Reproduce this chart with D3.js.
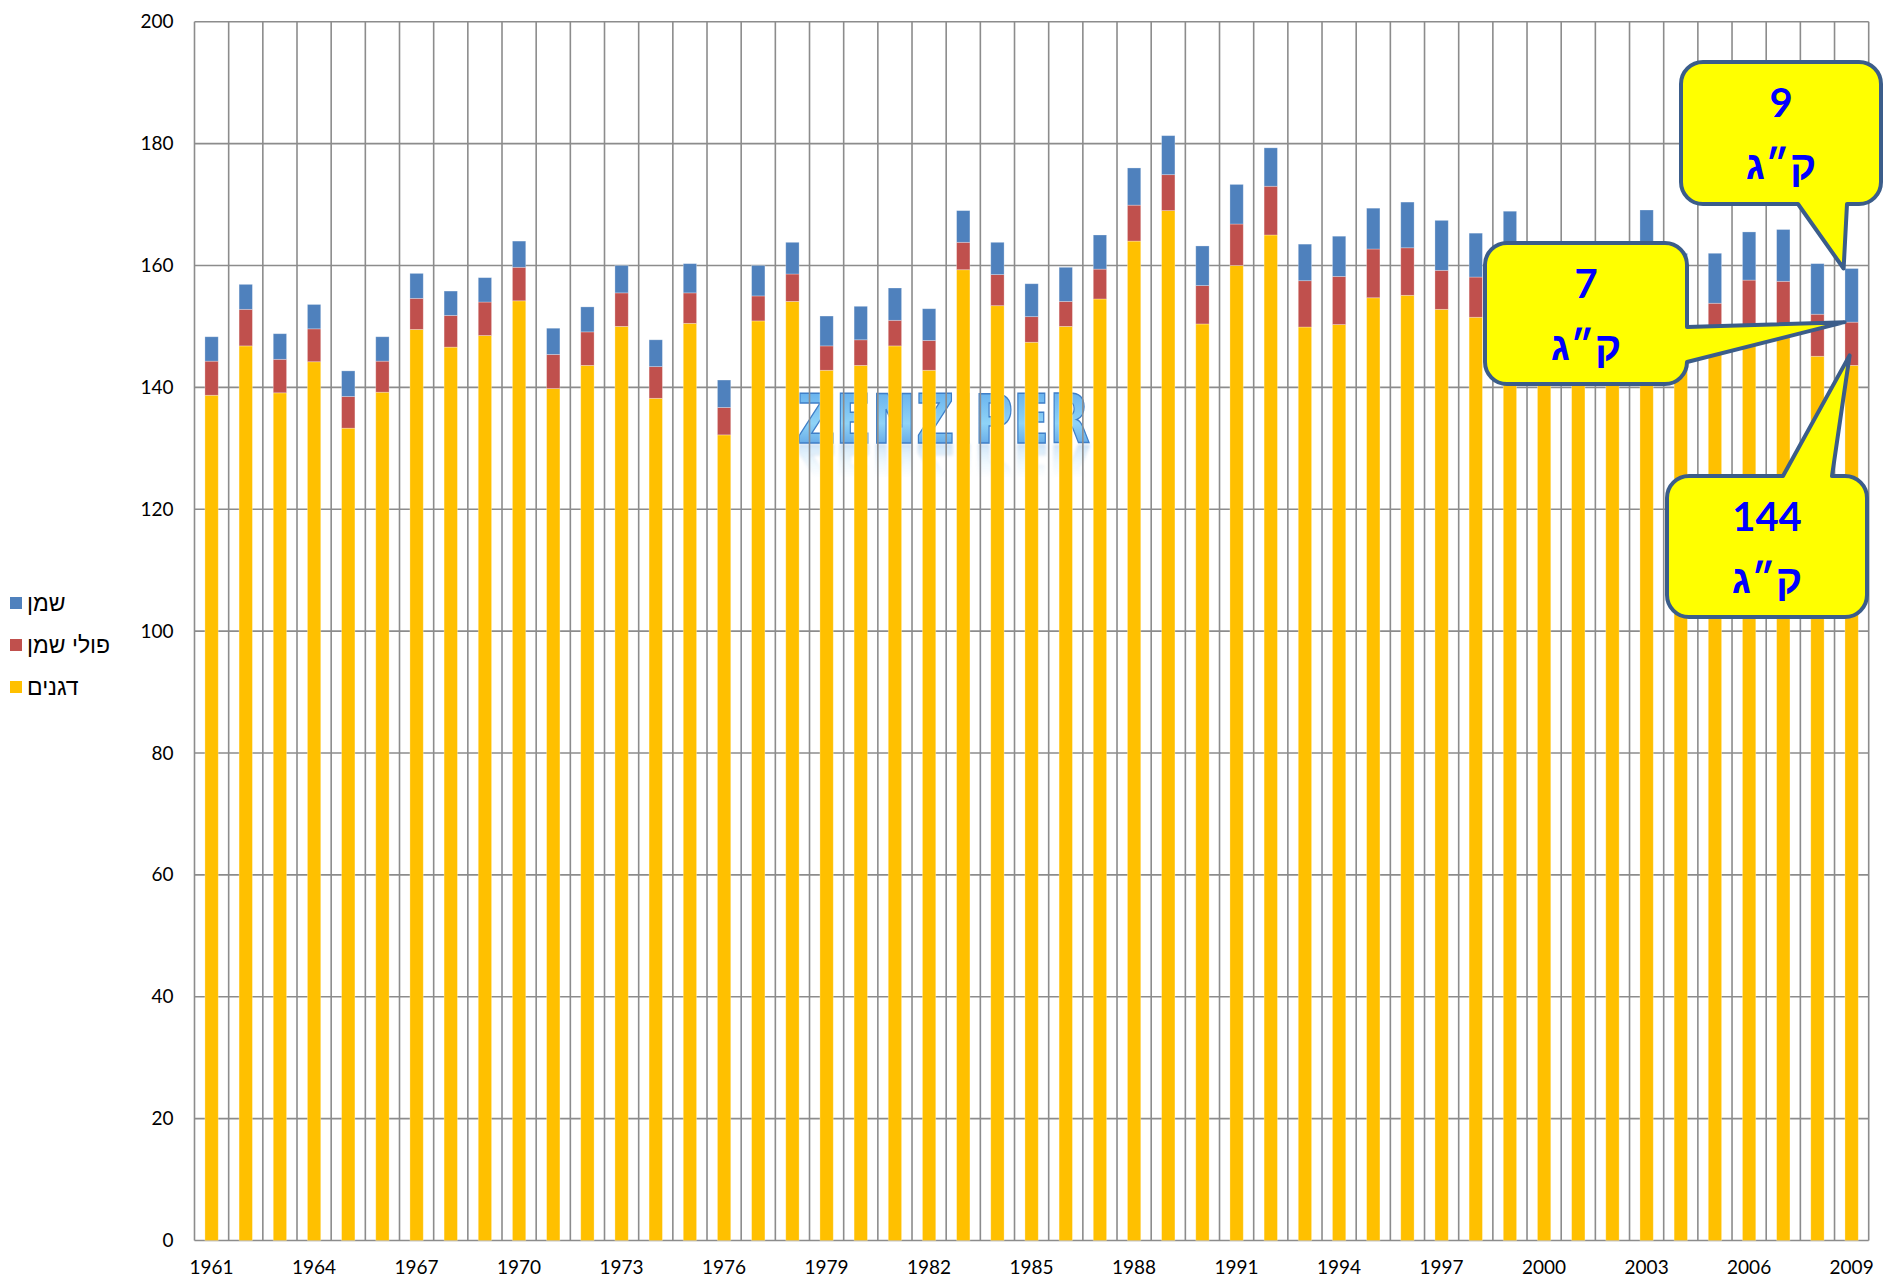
<!DOCTYPE html>
<html>
<head>
<meta charset="utf-8">
<script src="https://cdnjs.cloudflare.com/ajax/libs/d3/7.8.5/d3.min.js"></script>
<style>
  body { margin: 0; background: #fff; }
  svg { display: block; }
</style>
</head>
<body>
<svg id="chart" width="1883" height="1282"></svg>
<script>
// data (kg per person per year)
const years = d3.range(1961, 2010);
const cereals = [138.7, 146.8, 139.1, 144.2, 133.3, 139.2, 149.5, 146.6, 148.5, 154.2,
    139.8, 143.6, 150.0, 138.2, 150.5, 132.2, 150.9, 154.1, 142.8, 143.6,
    146.8, 142.8, 159.3, 153.4, 147.4, 150.0, 154.5, 164.0, 169.0, 150.4,
    160.0, 165.0, 149.9, 150.3, 154.7, 155.1, 152.8, 151.5, 155.0, 147.5,
    147.0, 146.0, 154.5, 147.8, 147.2, 150.0, 149.8, 145.1, 143.6];
const oilcrops = [5.6, 6.0, 5.5, 5.4, 5.2, 5.1, 5.1, 5.2, 5.5, 5.5,
    5.6, 5.5, 5.5, 5.2, 5.0, 4.5, 4.1, 4.5, 4.0, 4.2,
    4.2, 4.9, 4.5, 5.1, 4.2, 4.1, 4.9, 5.9, 5.9, 6.3,
    6.8, 8.0, 7.6, 7.9, 8.0, 7.8, 6.4, 6.6, 6.5, 6.3,
    6.4, 6.5, 6.8, 6.7, 6.6, 7.6, 7.6, 6.9, 7.1];
const oils = [4.0, 4.1, 4.2, 4.0, 4.2, 4.0, 4.1, 4.0, 4.0, 4.3,
    4.3, 4.1, 4.5, 4.4, 4.8, 4.5, 5.0, 5.2, 4.9, 5.5,
    5.3, 5.2, 5.2, 5.3, 5.4, 5.6, 5.6, 6.1, 6.4, 6.5,
    6.5, 6.3, 6.0, 6.6, 6.7, 7.5, 8.2, 7.2, 7.4, 7.6,
    7.7, 7.8, 7.8, 7.5, 8.2, 7.9, 8.5, 8.3, 8.8];

const seriesKeys = ["cereals", "oilcrops", "oils"];
const seriesNames = ["דגנים", "פולי שמן", "שמן"];
const seriesColors = ["#FFC000", "#C0504D", "#4F81BD"];
const yTicks = d3.range(0, 201, 20);
const labelYears = d3.range(1961, 2010, 3);

// callout texts for the last year
const calloutValues = ["9", "7", "144"];
const calloutUnit = "ק״ג";

const rows = years.map((yr, i) => ({ year: yr, cereals: cereals[i], oilcrops: oilcrops[i], oils: oils[i] }));

const svg = d3.select("#chart");
const plot = { left: 194.5, right: 1868.7, top: 21.7, bottom: 1240.5 };
const gridColor = "#8c8c8c";

const x = d3.scaleBand()
    .domain(years)
    .range([plot.left, plot.right])
    .paddingInner(0.61)
    .paddingOuter(0.305);

const y = d3.scaleLinear()
    .domain([0, 200])
    .range([plot.bottom, plot.top]);

const color = d3.scaleOrdinal().domain(seriesKeys).range(seriesColors);

// watermark sits behind the bars
const defs = svg.append("defs");
const wmGrad = defs.append("linearGradient")
    .attr("id", "wm").attr("x1", 0).attr("y1", 0).attr("x2", 0).attr("y2", 1);
wmGrad.append("stop").attr("offset", "0%").attr("stop-color", "#5aa6ea");
wmGrad.append("stop").attr("offset", "55%").attr("stop-color", "#8fd3f7");
wmGrad.append("stop").attr("offset", "100%").attr("stop-color", "#4b8fdc");

// fade for the mirror image
const fadeGrad = defs.append("linearGradient")
    .attr("id", "fade").attr("gradientUnits", "userSpaceOnUse")
    .attr("x1", 0).attr("y1", 443).attr("x2", 0).attr("y2", 478);
fadeGrad.append("stop").attr("offset", "0%").attr("stop-color", "#fff").attr("stop-opacity", 0.55);
fadeGrad.append("stop").attr("offset", "100%").attr("stop-color", "#fff").attr("stop-opacity", 0);
defs.append("mask").attr("id", "fadeMask")
    .attr("maskUnits", "userSpaceOnUse")
    .attr("x", 780).attr("y", 440).attr("width", 330).attr("height", 60)
    .append("rect")
    .attr("x", 780).attr("y", 440).attr("width", 330).attr("height", 60)
    .style("fill", "url(#fade)");
defs.append("filter").attr("id", "soft")
    .append("feGaussianBlur").attr("stdDeviation", 1.5);

const wm = svg.append("g").attr("class", "watermark");
wm.append("text")
    .attr("id", "wmtext")
    .attr("x", 797).attr("y", 443)
    .attr("textLength", 293).attr("lengthAdjust", "spacingAndGlyphs")
    .style("font-family", "'DejaVu Sans', sans-serif")
    .style("font-weight", "bold")
    .style("font-size", "68px")
    .style("fill", "url(#wm)")
    .style("stroke", "#3f7fc8")
    .style("stroke-width", 1.5)
    .text("ZENZIPER");
// faded mirror image below the word
wm.append("g")
    .attr("mask", "url(#fadeMask)")
    .append("use")
    .attr("href", "#wmtext")
    .attr("transform", "translate(0, 888) scale(1,-1)")
    .attr("filter", "url(#soft)")
    .style("opacity", 0.6);

// horizontal gridlines
svg.append("g")
    .selectAll("line")
    .data(yTicks)
    .join("line")
    .attr("x1", plot.left).attr("x2", plot.right)
    .attr("y1", d => y(d)).attr("y2", d => y(d))
    .style("stroke", gridColor)
    .style("stroke-width", 1.6);

// vertical gridlines at category boundaries
const step = x.step();
svg.append("g")
    .selectAll("line")
    .data(years.concat([null]))
    .join("line")
    .attr("x1", (d, i) => plot.left + i * step)
    .attr("x2", (d, i) => plot.left + i * step)
    .attr("y1", plot.top).attr("y2", plot.bottom)
    .style("stroke", gridColor)
    .style("stroke-width", 1.6);

// stacked bars
const stacked = d3.stack().keys(seriesKeys)(rows);
svg.append("g")
    .selectAll("g")
    .data(stacked)
    .join("g")
    .style("fill", d => color(d.key))
    .selectAll("rect")
    .data(d => d)
    .join("rect")
    .attr("x", d => x(d.data.year))
    .attr("width", x.bandwidth())
    .attr("y", d => y(d[1]))
    .attr("height", d => y(d[0]) - y(d[1]))
    .style("stroke", "#ffffff")
    .style("stroke-opacity", 0.35)
    .style("stroke-width", 0.8);

// axes
const yAxis = svg.append("g")
    .attr("transform", `translate(${plot.left},0)`)
    .call(d3.axisLeft(y).tickValues(yTicks).tickSize(0).tickPadding(21));
yAxis.select(".domain").remove();
yAxis.selectAll("text")
    .style("font-family", "Lato, 'Liberation Sans', sans-serif")
    .style("font-size", "19px")
    .style("fill", "#000");

const xAxis = svg.append("g")
    .attr("transform", `translate(0,${plot.bottom})`)
    .call(d3.axisBottom(x).tickValues(labelYears).tickSize(0).tickPadding(20));
xAxis.select(".domain").remove();
xAxis.selectAll("text")
    .style("font-family", "Lato, 'Liberation Sans', sans-serif")
    .style("font-size", "19px")
    .style("fill", "#000");

// legend (top to bottom: oils, oilcrops, cereals)
const legendOrder = [2, 1, 0];
const legend = svg.append("g").attr("class", "legend");
legend.selectAll("rect")
    .data(legendOrder)
    .join("rect")
    .attr("x", 10)
    .attr("y", (d, i) => 597 + i * 42)
    .attr("width", 12)
    .attr("height", 12)
    .style("fill", d => seriesColors[d]);
legend.selectAll("text")
    .data(legendOrder)
    .join("text")
    .attr("x", 27)
    .attr("y", (d, i) => 611 + i * 42)
    .style("font-family", "'Liberation Sans', 'DejaVu Sans', sans-serif")
    .style("font-size", "23px")
    .style("fill", "#000")
    .text(d => seriesNames[d]);

// callouts pointing at the 2009 bar
const last = rows[rows.length - 1];
const cx = x(last.year) + x.bandwidth() / 2;
const r = 22;

function bubble(b) {
    const { x0, y0, x1, y1 } = b;
    const p = d3.path();
    p.moveTo(x0 + r, y0);
    if (b.side === "top") {
        p.lineTo(b.b0, y0);
        p.lineTo(b.tx, b.ty);
        p.lineTo(b.b1, y0);
    }
    p.lineTo(x1 - r, y0);
    p.arcTo(x1, y0, x1, y0 + r, r);
    if (b.side === "right") {
        p.lineTo(x1, b.b0);
        p.lineTo(b.tx, b.ty);
        p.lineTo(x1, b.b1);
    }
    p.lineTo(x1, y1 - r);
    p.arcTo(x1, y1, x1 - r, y1, r);
    if (b.side === "bottom") {
        p.lineTo(b.b1, y1);
        p.lineTo(b.tx, b.ty);
        p.lineTo(b.b0, y1);
    }
    p.lineTo(x0 + r, y1);
    p.arcTo(x0, y1, x0, y1 - r, r);
    p.lineTo(x0, y0 + r);
    p.arcTo(x0, y0, x0 + r, y0, r);
    p.closePath();
    return p.toString();
}

const callouts = [
    { text: calloutValues[0], x0: 1681, y0: 62, x1: 1881, y1: 204, side: "bottom", b0: 1798, b1: 1847,
      tx: cx - 8, ty: y(last.cereals + last.oilcrops + last.oils) },
    { text: calloutValues[1], x0: 1485, y0: 243, x1: 1687, y1: 384, side: "right", b0: 327, b1: 362,
      tx: cx - 7, ty: y(last.cereals + last.oilcrops) },
    { text: calloutValues[2], x0: 1667, y0: 476, x1: 1867, y1: 617, side: "top", b0: 1783, b1: 1832,
      tx: cx - 2, ty: y(last.cereals) - 10 }
];

const cg = svg.append("g").attr("class", "callouts")
    .selectAll("g")
    .data(callouts)
    .join("g");

cg.append("path")
    .attr("d", d => bubble(d))
    .style("fill", "#FFFF00")
    .style("stroke", "#3b5d8a")
    .style("stroke-width", 4)
    .style("stroke-linejoin", "round");

cg.append("text")
    .attr("x", d => (d.x0 + d.x1) / 2)
    .attr("y", d => d.y0 + 55)
    .attr("text-anchor", "middle")
    .style("font-family", "Lato, 'Liberation Sans', sans-serif")
    .style("font-weight", "bold")
    .style("font-size", "40px")
    .style("fill", "#0000FF")
    .text(d => d.text);

cg.append("text")
    .attr("x", d => (d.x0 + d.x1) / 2)
    .attr("y", d => d.y0 + 117)
    .attr("text-anchor", "middle")
    .style("font-family", "'Liberation Sans', 'DejaVu Sans', sans-serif")
    .style("font-weight", "bold")
    .style("font-size", "40px")
    .style("fill", "#0000FF")
    .text(calloutUnit);
</script>
</body>
</html>
